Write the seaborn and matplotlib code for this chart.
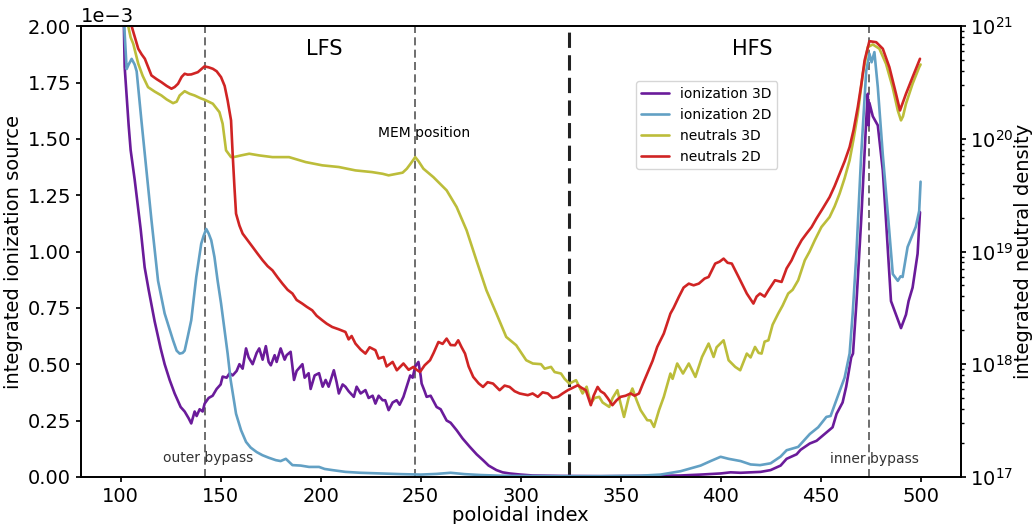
import numpy as np
import pandas as pd
import matplotlib
matplotlib.use("Agg")
import matplotlib.pyplot as plt
import seaborn as sns

# ---------------- data ----------------
# ionization 3D  (left axis, units of 1e-3)
ion3d_x = [100, 101, 102, 104, 105, 107, 110, 112, 114, 117, 120, 122, 124.5, 127, 130, 132, 134, 135.3,
           137, 138, 139.5, 141, 142, 144, 146, 148, 150, 151, 153, 154.5, 156, 158, 159.4, 161, 162.7,
           164, 166, 168, 169.3, 171, 172.6, 174, 175.1, 177, 178, 180, 182, 183, 185, 186.7, 188, 190.9,
           192, 194, 195, 197, 199.2, 201, 202.5, 204, 206.6, 208, 209.1, 211, 212.4, 214, 216.6, 218, 220,
           222.4, 224, 226, 227.4, 229, 231, 232.3, 234, 236, 238, 239.5, 241.4, 243, 244.8, 246, 247.3,
           248.9, 250, 250.5, 252, 253, 255, 258, 260, 263, 265, 268, 271, 274.6, 278, 281.2, 284, 287.9,
           291, 294.5, 300, 306, 320, 340, 360, 380, 390, 400, 405, 410, 420, 425, 430, 433, 438, 440,
           444.6, 448, 452, 456, 458, 461, 462.8, 465.3, 466.2, 467.9, 470.3, 472.8, 473.6, 474, 474.4,
           476.1, 478.6, 480, 481.1, 482.7, 484, 485.2, 487.7, 490.2, 492.7, 494, 496, 498.5, 499.7]
ion3d_y = [3.0, 2.3, 1.82, 1.56, 1.45, 1.32, 1.10, 0.93, 0.83, 0.69, 0.57, 0.50, 0.43, 0.37, 0.31, 0.29, 0.26, 0.237,
           0.29, 0.27, 0.30, 0.29, 0.325, 0.35, 0.36, 0.39, 0.41, 0.445, 0.44, 0.46, 0.45, 0.47, 0.50, 0.48, 0.57,
           0.53, 0.50, 0.55, 0.57, 0.52, 0.58, 0.51, 0.495, 0.54, 0.51, 0.57, 0.52, 0.54, 0.555, 0.43, 0.47, 0.50,
           0.44, 0.46, 0.39, 0.45, 0.46, 0.40, 0.43, 0.40, 0.473, 0.42, 0.37, 0.41, 0.40, 0.38, 0.355, 0.40, 0.37,
           0.385, 0.35, 0.36, 0.325, 0.36, 0.34, 0.34, 0.296, 0.33, 0.34, 0.32, 0.355, 0.40, 0.45, 0.44, 0.49,
           0.51, 0.45, 0.414, 0.38, 0.355, 0.36, 0.31, 0.30, 0.25, 0.24, 0.207, 0.17, 0.133, 0.10, 0.074, 0.05, 0.03,
           0.02, 0.015, 0.01, 0.006, 0.004, 0.003, 0.004, 0.006, 0.01, 0.015, 0.02, 0.018, 0.022, 0.03, 0.05, 0.08, 0.10, 0.12,
           0.148, 0.16, 0.19, 0.22, 0.28, 0.33, 0.40, 0.53, 0.547, 0.77, 1.14, 1.58, 1.70, 1.56, 1.66,
           1.60, 1.56, 1.45, 1.36, 1.14, 0.95, 0.78, 0.72, 0.66, 0.72, 0.78, 0.84, 0.99, 1.175]

# ionization 2D  (left axis, units of 1e-3)
ion2d_x = [100, 101, 101.8, 103, 104, 105.5, 107, 108, 110.4, 112.9, 115.4, 118.7, 122, 126.2, 128, 129.5, 131,
           132, 133.5, 135.3, 137.8, 140.3, 141.5, 142.8, 144, 145.3, 146.9, 148.5, 150.2, 153.5, 155, 156.9,
           157.7, 160.2, 162.7, 165, 168, 170.9, 174, 177.6, 180, 182.6, 185.9, 190, 194.2, 199.2, 202, 205.8,
           212.4, 220, 230, 240, 250, 258, 265, 272, 280, 290, 300, 320, 340, 360, 370, 380, 390, 395, 400,
           404, 410, 415, 419.7, 425, 430, 433, 438.8, 444.6, 448.8, 452.9, 455, 459.5, 462, 464.5, 466, 467.9,
           470.3, 472.8, 474.4, 475.5, 476.9, 478.6, 481.1, 483.6, 486.1, 488.6, 490, 491, 493.5, 497.6, 499.3, 500]
ion2d_y = [3.0, 2.3, 2.0, 1.81, 1.83, 1.855, 1.83, 1.80, 1.58, 1.36, 1.14, 0.87, 0.725, 0.606, 0.56, 0.547, 0.55,
           0.56, 0.62, 0.695, 0.887, 1.035, 1.07, 1.10, 1.08, 1.05, 0.976, 0.87, 0.77, 0.547, 0.43, 0.325,
           0.28, 0.207, 0.155, 0.13, 0.11, 0.096, 0.085, 0.074, 0.07, 0.08, 0.052, 0.05, 0.044, 0.044, 0.035, 0.03,
           0.022, 0.018, 0.015, 0.012, 0.01, 0.013, 0.018, 0.012, 0.008, 0.005, 0.004, 0.003, 0.003, 0.005, 0.01, 0.025, 0.05, 0.07, 0.089,
           0.08, 0.07, 0.055, 0.052, 0.06, 0.09, 0.118, 0.133, 0.19, 0.22, 0.266, 0.27, 0.38, 0.44, 0.547, 0.72, 0.99,
           1.43, 1.80, 1.878, 1.84, 1.885, 1.73, 1.43, 1.17, 0.90, 0.87, 0.89, 0.887, 1.02, 1.11, 1.18, 1.31]

# neutrals 3D  (right axis, log10 of density)
neu3d_x = [100, 102, 103.8, 105, 106.3, 108.8, 111, 113.7, 117, 120.4, 123, 126.2, 128, 129.5, 132, 134.5, 137, 140,
           142, 146.1, 149.4, 151, 152.7, 155.2, 157, 160.2, 164.3, 169.3, 175.9, 184.2, 192.5, 200.8, 209.1,
           217.4, 225.7, 231, 234, 238.1, 241, 243.1, 245, 247.3, 249, 251.4, 256.4, 263, 268, 273, 277.9, 282.9,
           287.9, 292.8, 297.8, 302.8, 306.1, 310.2, 312, 315.2, 317, 320.2, 322, 324.4, 327.7, 331, 333, 335.1,
           337, 339.3, 341, 344.3, 346, 348.4, 350, 351.7, 354, 355.9, 358, 360, 363.3, 365, 366.7, 369.2, 371.6,
           374.9, 376, 378.3, 381.2, 384.1, 387.4, 390.7, 394, 396.5, 398, 401.5, 404, 407.3, 409.8, 413.1, 415,
           417.2, 419, 420.5, 422, 423.9, 426, 428.8, 431, 433.8, 436, 438.8, 442.1, 444.5, 447.1, 450.4, 454.5,
           457, 459.5, 462, 464.5, 466.5, 468.6, 471.1, 473.6, 476.1, 479.4, 482.7, 486, 488.6, 490.2, 491.2,
           492.7, 496, 499.3, 500]
neu3d_log = [21.3, 21.1, 21.0, 20.9, 20.844, 20.667, 20.56, 20.459, 20.42, 20.385, 20.35, 20.317, 20.33, 20.385, 20.423, 20.40, 20.385, 20.36,
             20.347, 20.312, 20.237, 20.134, 19.898, 19.838, 19.84, 19.853, 19.868, 19.853, 19.838, 19.838, 19.794, 19.765, 19.75,
             19.72, 19.705, 19.69, 19.676, 19.69, 19.70, 19.735, 19.78, 19.838, 19.80, 19.735, 19.66, 19.543, 19.395, 19.188, 18.922, 18.656,
             18.449, 18.242, 18.168, 18.035, 18.006, 18.0, 17.96, 17.976, 17.93, 17.917, 17.87, 17.828, 17.858, 17.74, 17.80, 17.651,
             17.70, 17.71, 17.66, 17.621, 17.70, 17.769, 17.65, 17.532, 17.70, 17.784, 17.68, 17.592, 17.503, 17.50, 17.443, 17.592, 17.71,
             17.917, 17.87, 18.006, 17.917, 18.006, 17.887, 18.064, 18.183, 18.064, 18.15, 18.212, 18.035, 17.976, 17.946, 18.094, 18.06,
             18.153, 18.10, 18.094, 18.20, 18.212, 18.35, 18.449, 18.52, 18.627, 18.66, 18.745, 18.922, 19.0, 19.1, 19.217, 19.306,
             19.40, 19.514, 19.65, 19.809, 20.0, 20.223, 20.578, 20.814, 20.838, 20.80, 20.667, 20.459, 20.252, 20.164, 20.20,
             20.312, 20.489, 20.636, 20.66]

# neutrals 2D  (right axis, log10 of density)
neu2d_x = [100, 103, 105.5, 107.1, 108.8, 110.5, 112.1, 115.4, 118, 120.4, 123, 125.4, 127, 128.7, 130.5, 132, 133.5,
           135.3, 138.6, 141.9, 144, 146.1, 148, 150.2, 152, 153.5, 155.2, 156, 156.9, 157.7, 159.4, 161, 163.5,
           166, 168.5, 171, 173.5, 175.9, 178.5, 180.9, 183.5, 185.9, 188, 190.8, 193, 195.8, 198, 200.8, 203,
           205.8, 209, 212.4, 214, 215.5, 217.4, 220, 222.4, 224.5, 227.4, 229, 231.5, 233, 236, 238.1, 241.4,
           244, 246.4, 248, 249.7, 252, 254.7, 256.5, 258.9, 261, 263, 265, 267.2, 268.8, 270.5, 272.2, 274,
           276.3, 279, 281.2, 283.5, 286.2, 289.5, 292, 294.5, 297, 299.5, 303.6, 306, 308.6, 311, 313.6, 316,
           318.6, 321, 323.6, 326, 328.6, 330.5, 332.6, 335.1, 336.5, 338.5, 340, 341.8, 343.5, 345.9, 348, 350,
           352.5, 355, 357, 359.2, 361, 363.3, 366, 368.3, 371.6, 374.9, 376.5, 379.1, 381.5, 384.1, 386.5,
           389.1, 392, 394, 397.3, 399.5, 401.5, 403.5, 405.6, 409, 413.1, 416.4, 418, 419.7, 422, 423.9, 427.2,
           430.5, 433, 435.5, 438, 440.5, 443, 445.5, 447.9, 451, 454.5, 457, 459.5, 462, 464.5, 466.5, 468.6,
           470.5, 472, 474.4, 477.8, 481.1, 484.4, 487.7, 489.7, 492.7, 496, 499.7]
neu2d_log = [21.4, 21.15, 21.0, 20.902, 20.8, 20.75, 20.711, 20.563, 20.53, 20.503, 20.47, 20.445, 20.46, 20.489, 20.55, 20.578, 20.57,
             20.572, 20.592, 20.643, 20.635, 20.622, 20.60, 20.548, 20.47, 20.341, 20.164, 19.868, 19.572, 19.336, 19.23, 19.159, 19.10,
             19.04, 18.98, 18.922, 18.87, 18.833, 18.77, 18.715, 18.66, 18.627, 18.57, 18.538, 18.51, 18.478, 18.43, 18.39, 18.36,
             18.33, 18.31, 18.286, 18.22, 18.25, 18.183, 18.13, 18.094, 18.15, 18.124, 18.05, 18.064, 17.98, 18.02, 17.946, 18.006,
             17.95, 17.976, 17.95, 17.931, 17.99, 18.035, 18.10, 18.197, 18.18, 18.227, 18.17, 18.168, 18.212, 18.15, 18.094, 17.98,
             17.887, 17.83, 17.798, 17.84, 17.828, 17.769, 17.81, 17.798, 17.76, 17.74, 17.725, 17.74, 17.71, 17.75, 17.74, 17.70,
             17.71, 17.74, 17.769, 17.79, 17.813, 17.79, 17.769, 17.636, 17.72, 17.798, 17.76, 17.74, 17.70, 17.636, 17.68, 17.71,
             17.72, 17.74, 17.72, 17.74, 17.82, 17.917, 18.03, 18.153, 18.272, 18.449, 18.50, 18.597, 18.68, 18.715, 18.70,
             18.715, 18.76, 18.774, 18.893, 18.91, 18.937, 18.90, 18.893, 18.774, 18.627, 18.538, 18.60, 18.627, 18.60, 18.656, 18.745,
             18.73, 18.85, 18.922, 19.02, 19.1, 19.16, 19.217, 19.292, 19.38, 19.483, 19.58, 19.691, 19.80, 19.927, 20.08, 20.282,
             20.50, 20.696, 20.867, 20.858, 20.80, 20.636, 20.40, 20.252, 20.4, 20.548, 20.711]

labels = ["ionization 3D", "ionization 2D", "neutrals 3D", "neutrals 2D"]
colors = ["#6a1b9a", "#62a0c4", "#bcbd3a", "#d02424"]
vlines_thin = [142, 247, 474]
vline_mid = 324
xticks = [100, 150, 200, 250, 300, 350, 400, 450, 500]

# ---------------- build tables ----------------
df_i3 = pd.DataFrame({"x": ion3d_x, "y": np.array(ion3d_y) * 1e-3})
df_i2 = pd.DataFrame({"x": ion2d_x, "y": np.array(ion2d_y) * 1e-3})
df_n3 = pd.DataFrame({"x": neu3d_x, "y": 10.0 ** np.array(neu3d_log)})
df_n2 = pd.DataFrame({"x": neu2d_x, "y": 10.0 ** np.array(neu2d_log)})

sns.set_theme(style="ticks", rc={"axes.edgecolor": "black", "xtick.color": "black",
                                 "ytick.color": "black", "text.color": "black",
                                 "axes.labelcolor": "black",
                                 "xtick.major.size": 3.5, "ytick.major.size": 3.5,
                                 "ytick.minor.size": 2.0,
                                 "xtick.major.pad": 3.5, "ytick.major.pad": 3.5})
plt.rcParams["font.family"] = ["DejaVu Sans"]

fig = plt.figure(figsize=(10.34, 5.24), dpi=100)
ax = fig.add_subplot(111)
fig.subplots_adjust(left=0.078, right=0.929, bottom=0.09, top=0.95)
ax2 = ax.twinx()

lw = 1.9
sns.lineplot(data=df_i3, x="x", y="y", ax=ax, color=colors[0], lw=lw, label=labels[0], estimator=None, legend=False)
sns.lineplot(data=df_i2, x="x", y="y", ax=ax, color=colors[1], lw=lw, label=labels[1], estimator=None, legend=False)
sns.lineplot(data=df_n3, x="x", y="y", ax=ax2, color=colors[2], lw=lw, label=labels[2], estimator=None, legend=False)
sns.lineplot(data=df_n2, x="x", y="y", ax=ax2, color=colors[3], lw=lw, label=labels[3], estimator=None, legend=False)

for xv in vlines_thin:
    ax.axvline(xv, color="#555555", lw=1.2, ls=(0, (4.8, 2.6)), zorder=1)
ax.axvline(vline_mid, color="#222222", lw=2.2, ls=(0, (5, 2.4)), zorder=1)

ax.set_xlim(80, 520)
ax.set_ylim(0, 2.0e-3)
ax.set_yticks(np.arange(0, 2.001e-3, 0.25e-3))
ax.ticklabel_format(axis="y", style="sci", scilimits=(0, 0))
ax.set_xticks(xticks)
ax2.set_yscale("log")
ax2.set_ylim(1e17, 1e21)

fs = 14
ax.tick_params(labelsize=fs)
ax2.tick_params(labelsize=fs)
ax.yaxis.get_offset_text().set_fontsize(fs)
ax.set_xlabel("poloidal index", fontsize=fs, labelpad=0.5)
ax.set_ylabel("integrated ionization source", fontsize=fs, labelpad=3)
ax2.set_ylabel("integrated neutral density", fontsize=fs, labelpad=0)

ax.text(202, 1.90e-3, "LFS", ha="center", va="center", fontsize=15)
ax.text(415.6, 1.90e-3, "HFS", ha="center", va="center", fontsize=15)
ax.text(251.8, 1.525e-3, "MEM position", ha="center", va="center", fontsize=10)
ax.text(143.5, 0.083e-3, "outer bypass", ha="center", va="center", fontsize=10, color="#333333")
ax.text(476.8, 0.077e-3, "inner bypass", ha="center", va="center", fontsize=10, color="#333333")

h1, l1 = ax.get_legend_handles_labels()
h2, l2 = ax2.get_legend_handles_labels()
ax2.legend(h1 + h2, l1 + l2, loc="upper left", bbox_to_anchor=(0.631, 0.878),
           borderaxespad=0, fontsize=10, frameon=True)

fig.savefig("out.png", dpi=100)
